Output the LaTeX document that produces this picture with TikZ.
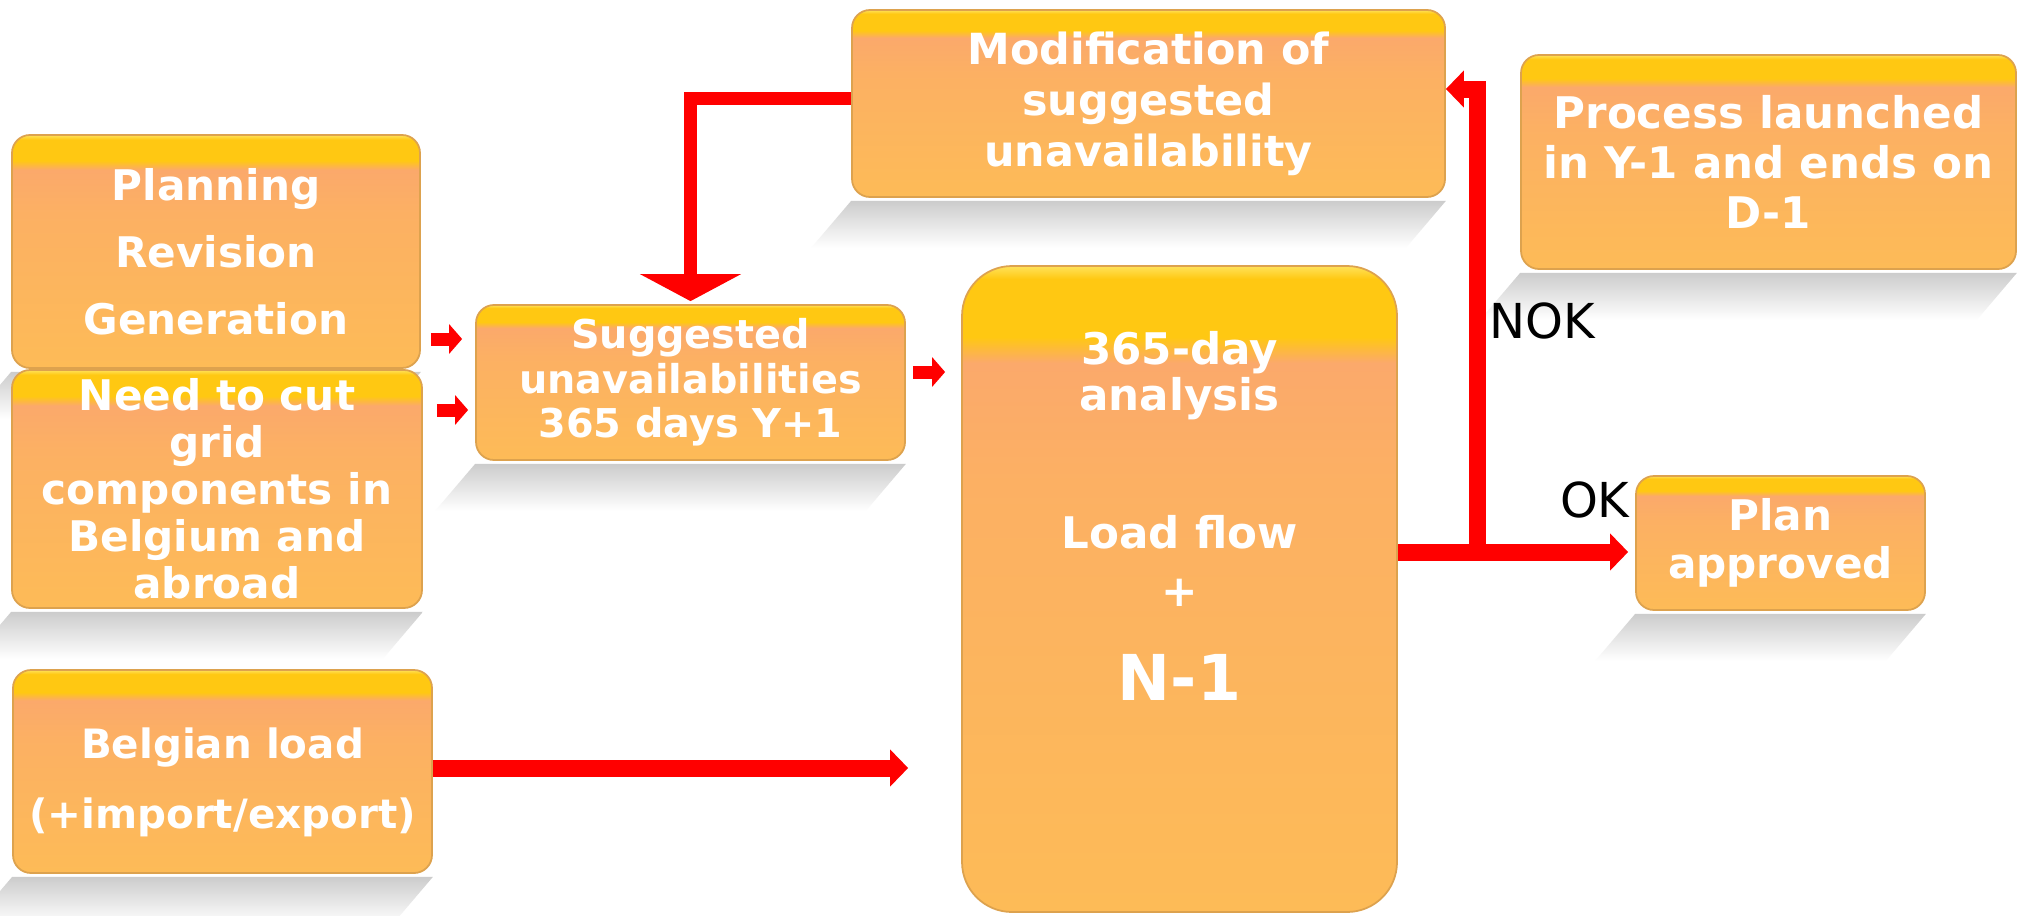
\documentclass[tikz,border=0pt]{standalone}
\usepackage{fontspec}
\setsansfont{DejaVu Sans}
\usetikzlibrary{positioning,arrows.meta,calc,backgrounds}
\definecolor{goldHi}{HTML}{FFE25A}
\definecolor{gold}{HTML}{FFC812}
\definecolor{peach}{HTML}{FBA96B}
\definecolor{amber}{HTML}{FDBB57}
\definecolor{boxEdge}{HTML}{DDA24E}
\definecolor{flowRed}{HTML}{FF0000}
\pgfdeclareverticalshading{stageShade}{100bp}{color(0bp)=(amber); color(25bp)=(amber); color(58bp)=(peach!60!amber); color(67.5bp)=(peach); color(69.5bp)=(gold); color(74bp)=(gold); color(75bp)=(goldHi); color(100bp)=(goldHi)}
\newcommand{\stagefont}[2]{\fontsize{#1}{#2}\selectfont}

\begin{document}
\begin{tikzpicture}[
    stageBox/.style={rectangle, rounded corners=0.18cm, shading=stageShade, draw=boxEdge, line width=0.5pt, text=white, align=center, inner sep=2pt},
    bigArrow/.style={draw=flowRed, line width=0.17cm, -{Triangle[length=0.18cm, width=0.36cm]}},
    smallArrow/.style={draw=flowRed, line width=0.13cm, -{Triangle[length=0.13cm, width=0.29cm]}},
    loopArrow/.style={draw=flowRed, line width=0.13cm, -{Triangle[length=0.27cm, width=1.0cm]}},
    edgeLabel/.style={font=\sffamily\stagefont{13.7}{16}, text=black, inner sep=1pt},
    boxShadow/.style={top color=black!20, bottom color=white}
]
    \useasboundingbox (0,0) rectangle (20.19,-9.15);

    \node[stageBox, minimum width=4.08cm, minimum height=2.33cm, font=\sffamily\bfseries\stagefont{12}{19}] (planning) at (2.16,-2.515) {Planning\\Revision\\Generation};
    \node[stageBox, minimum width=4.10cm, minimum height=2.38cm, font=\sffamily\bfseries\stagefont{12}{13.4}] (need) at (2.17,-4.89) {Need to cut\\grid\\components in\\Belgium and\\abroad};
    \node[stageBox, minimum width=4.19cm, minimum height=2.03cm, text height=1.23cm, font=\sffamily\bfseries\stagefont{11.5}{20}] (belgian) at (2.225,-7.715) {Belgian load\\(+import/export)};

    \node[stageBox, minimum width=4.29cm, minimum height=1.55cm, font=\sffamily\bfseries\stagefont{11.3}{12.7}] (suggested) at (6.905,-3.825) {Suggested\\unavailabilities\\365 days Y+1};
    \node[stageBox, minimum width=5.93cm, minimum height=1.87cm, font=\sffamily\bfseries\stagefont{12.2}{14.5}] (modif) at (11.485,-1.035) {Modification of\\suggested\\unavailability};

    \node[stageBox, rounded corners=0.5cm, minimum width=4.35cm, minimum height=6.46cm, text depth=1.46cm, font=\sffamily\bfseries\stagefont{12.4}{13.2}] (analysis) at (11.795,-5.89) {365-day\\analysis\\[26pt]Load flow\\[3.3pt]+\\[13.5pt]{\stagefont{18}{21}N-1}};

    \node[stageBox, minimum width=4.95cm, minimum height=2.14cm, font=\sffamily\bfseries\stagefont{12.4}{14.3}] (process) at (17.685,-1.62) {Process launched\\in Y-1 and ends on\\D-1};
    \node[stageBox, minimum width=2.89cm, minimum height=1.34cm, font=\sffamily\bfseries\stagefont{12}{13.7}] (plan) at (17.805,-5.43) {Plan\\approved};

    \coordinate (split) at (14.775,-5.52);

    \draw[smallArrow, shorten <=0.10cm, shorten >=0.13cm] (planning.east |- 0,-3.39) -- (suggested.west |- 0,-3.39);
    \draw[smallArrow, shorten <=0.14cm, shorten >=0.07cm] (need.east |- 0,-4.10) -- (suggested.west |- 0,-4.10);
    \draw[smallArrow, shorten <=0.07cm, shorten >=0.16cm] (suggested.east |- 0,-3.72) -- (analysis.west |- 0,-3.72);
    \draw[bigArrow, shorten >=0.53cm] (belgian.east |- 0,-7.68) -- (analysis.west |- 0,-7.68);

    \draw[loopArrow, shorten >=0.03cm] ([yshift=0.05cm]modif.west) -| (suggested.north);

    \draw[bigArrow, shorten >=0.07cm] (analysis.east |- split) -- (plan.west |- split) node[edgeLabel, pos=0.83, above=0.22cm] {OK};
    \draw[bigArrow] (split) |- ([yshift=0.145cm]modif.east) node[edgeLabel, pos=0.25, right=0cm] {NOK};

    \begin{scope}[on background layer]
        \fill[white] (0,0) rectangle (20.19,-9.15);
        \foreach \n in {planning,need,belgian,suggested,modif,process,plan}
            \shade[boxShadow] ([yshift=-0.03cm]\n.south west) -- ([yshift=-0.03cm]\n.south east) -- ([shift={(-0.4,-0.5)}]\n.south east) -- ([shift={(-0.4,-0.5)}]\n.south west) -- cycle;
    \end{scope}
\end{tikzpicture}
\end{document}
